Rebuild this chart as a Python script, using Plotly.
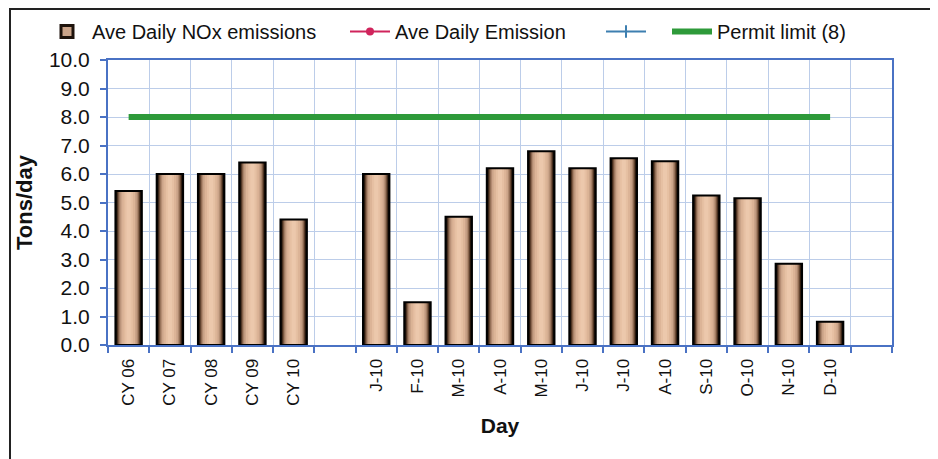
import plotly.graph_objects as go

labels = ["CY 06", "CY 07", "CY 08", "CY 09", "CY 10", "",
          "J-10", "F-10", "M-10", "A-10", "M-10", "J-10", "J-10",
          "A-10", "S-10", "O-10", "N-10", "D-10", ""]
nox = [5.4, 6.0, 6.0, 6.4, 4.4, None,
       6.0, 1.5, 4.5, 6.2, 6.8, 6.2, 6.55,
       6.45, 5.25, 5.15, 2.85, 0.82, None]
permit = [8, 8, 8, 8, 8, 8,
          8, 8, 8, 8, 8, 8, 8,
          8, 8, 8, 8, 8, None]

pos = list(range(len(labels)))
FONT = "Arial, Liberation Sans, sans-serif"

# page offset (body margin) compensation
OFF = 8
PL, PR, PT, PB = 108, 892, 60, 345   # desired plot-area edges on screen
PW, PH = PR - PL, PB - PT


def px_x(x):
    return (x - PL) / PW


def px_y(y):
    return (PB - y) / PH


fig = go.Figure()

# cylinder-like shading via overlaid bars of decreasing width
shades = [(0.64, "#0a0604"), (0.59, "#2b1a0e"), (0.545, "#5a3d2a"),
          (0.50, "#8a664e"), (0.45, "#b08a70"), (0.39, "#cba489"),
          (0.31, "#dcb497"), (0.20, "#e6c0a3"), (0.10, "#ecc8ac")]
for w, c in shades:
    fig.add_trace(go.Bar(x=pos, y=nox, width=w, marker=dict(color=c, line=dict(width=0)),
                         showlegend=False, hoverinfo="skip"))
fig.add_trace(go.Bar(x=pos, y=nox, width=0.64,
                     marker=dict(color="rgba(0,0,0,0)", line=dict(color="#000000", width=2)),
                     showlegend=False, hoverinfo="skip"))
# legend entries, each in its own legend box for exact placement
fig.add_trace(go.Bar(x=[None], y=[None], name="Ave Daily NOx emissions", legend="legend",
                     marker=dict(color="#cba489", line=dict(color="#1e130c", width=3))))
fig.add_trace(go.Scatter(x=[None], y=[None], mode="lines+markers", name="Ave Daily Emission",
                         legend="legend2",
                         line=dict(color="#d0245c", width=2), marker=dict(symbol="circle", size=8, color="#d0245c")))
fig.add_trace(go.Scatter(x=[None], y=[None], mode="lines+markers", name=" ", legend="legend3",
                         line=dict(color="#3d7fb0", width=2),
                         marker=dict(symbol="line-ns", size=9, line=dict(color="#3d7fb0", width=2))))
fig.add_trace(go.Scatter(x=pos, y=permit, mode="lines", name="Permit limit (8)", legend="legend4",
                         line=dict(color="#2e9a3a", width=6)))

LEG_TOP = 12


def leg(x):
    return dict(orientation="h", x=px_x(x), xanchor="left", y=px_y(LEG_TOP), yanchor="top",
                font=dict(size=20, family=FONT), bgcolor="rgba(0,0,0,0)", itemwidth=40)


fig.update_layout(
    width=938, height=459,
    margin=dict(l=PL - OFF, r=938 + OFF - PR, t=PT - OFF, b=459 + OFF - PB, autoexpand=False),
    paper_bgcolor="white", plot_bgcolor="white",
    barmode="overlay",
    font=dict(family=FONT, color="#111111"),
    legend=leg(42), legend2=leg(345), legend3=leg(601), legend4=leg(667),
    xaxis=dict(range=[-0.5, 18.5], tickmode="array", tickvals=pos, ticktext=labels,
               tickangle=-90, tickfont=dict(size=17), ticks="", showgrid=False,
               ticklabelstandoff=5,
               showline=True, linecolor="#4a72c4", linewidth=2, zeroline=False,
               minor=dict(tickmode="array", tickvals=[p - 0.5 for p in pos] + [18.5],
                          showgrid=True, gridcolor="#bccde9", gridwidth=1,
                          ticks="outside", ticklen=6, tickcolor="#4a72c4", tickwidth=2),
               title=dict(text="<b>Day</b>", font=dict(size=21), standoff=14),
               mirror=True, automargin=False),
    yaxis=dict(range=[0, 10], tickmode="array", tickvals=[i for i in range(11)],
               ticktext=[f"{i:.1f}" for i in range(11)], tickfont=dict(size=21),
               ticks="outside", ticklen=6, tickcolor="#4a72c4", tickwidth=2,
               ticklabelstandoff=6,
               showgrid=True, gridcolor="#bccde9", gridwidth=1,
               showline=True, linecolor="#4a72c4", linewidth=2, zeroline=False, mirror=True,
               title=dict(text="<b>Tons/day</b>", font=dict(size=22), standoff=10),
               automargin=False),
    shapes=[dict(type="rect", xref="paper", yref="paper",
                 x0=px_x(10), x1=px_x(960),
                 y0=px_y(480), y1=px_y(9),
                 line=dict(color="#222222", width=2), fillcolor="rgba(0,0,0,0)", layer="below")],
)

fig.write_html("out.html")
